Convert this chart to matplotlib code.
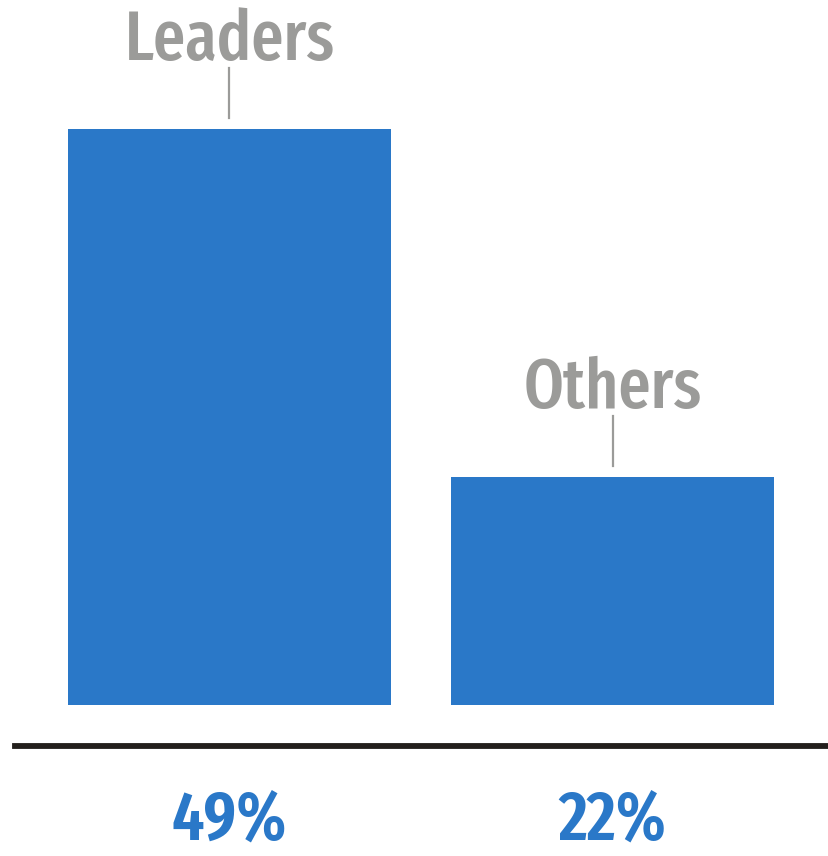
import matplotlib
matplotlib.use("Agg")
import matplotlib.pyplot as plt
from matplotlib import font_manager

categories = ["Leaders", "Others"]
values = [49, 22]
value_labels = ["49%", "22%"]

names = {f.name for f in font_manager.fontManager.ttflist}
FAM = [n for n in ["Fira Sans Extra Condensed", "Fira Sans Condensed", "PT Sans Narrow", "Asap Condensed"] if n in names] + ["DejaVu Sans"]

BLUE = "#2a78c8"
GRAY = "#9b9b99"
DARK = "#231f1c"

fig = plt.figure(figsize=(8.29, 8.56), dpi=100)
ax = fig.add_axes([0, 0, 1, 1])
ax.set_xlim(-0.599, 1.565)
ax.set_ylim(-7.40, 59.0)
ax.axis("off")

PX = 12.89  # pixels per data unit (vertical)
x = list(range(len(categories)))
base = 4.3
ax.bar(x, [v - base for v in values], bottom=base, width=0.843, color=BLUE)

ax.axhline(1.13, xmin=15 / 829, xmax=1, color=DARK, lw=4.2)

for xi, v, cat, lab in zip(x, values, categories, value_labels):
    ax.plot([xi, xi], [v + 11 / PX, v + 61 / PX], color=GRAY, lw=1.6)
    ax.annotate(cat, xy=(xi, v), xytext=(0, 69), textcoords="offset pixels",
                ha="center", va="baseline", fontsize=50, fontweight="medium",
                color=GRAY, family=FAM)
    ax.annotate(lab, xy=(xi, 0), xytext=(0, -79), textcoords="offset pixels",
                ha="center", va="baseline", fontsize=50, fontweight="semibold",
                color=BLUE, family=FAM)

fig.savefig("out.png", dpi=100)
